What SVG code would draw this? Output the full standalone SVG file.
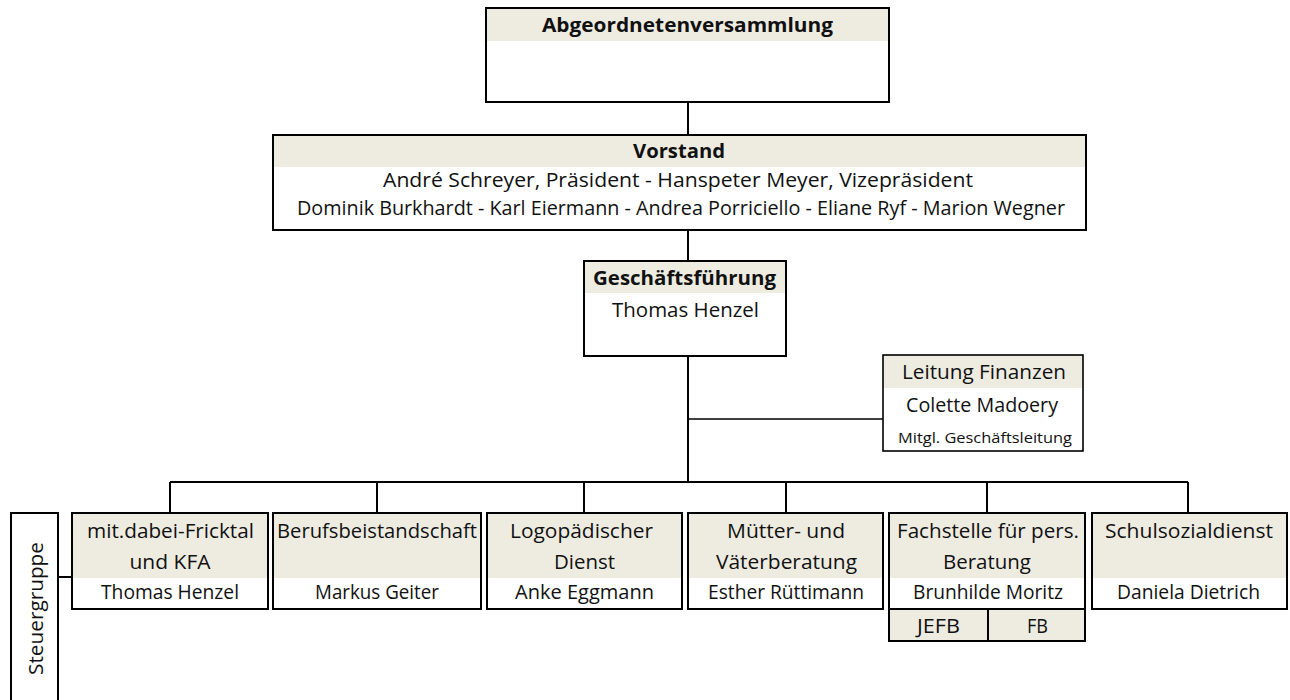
<svg xmlns="http://www.w3.org/2000/svg" width="1290" height="700" viewBox="0 0 1290 700">
<style>
.bg{fill:#ffffff}
.hd{fill:#EEECE1}
.bx{fill:none;stroke:#000;stroke-width:2}
.ln{fill:none;stroke:#000;stroke-width:2}
.thin{fill:none;stroke:#000;stroke-width:1.3}
text{font-family:"Open Sans","Noto Sans","Liberation Sans",sans-serif;fill:#111;text-anchor:middle}
.b{font-weight:bold;font-size:20px}
.t{font-size:20px}
.s{font-size:19.5px}
.xs{font-size:14.5px}
</style>
<rect x="0" y="0" width="1290" height="700" fill="#fff"/>
<g id="connectors">
<path class="ln" d="M688 102V135"/>
<path class="ln" d="M688 230V261"/>
<path class="ln" d="M688 356V482"/>
<path class="thin" d="M688 419H883"/>
<path class="ln" d="M170 482H1188"/>
<path class="ln" d="M170 482V513M377 482V513M584 482V513M786 482V513M987 482V513M1188 482V513"/>
<path class="ln" d="M58 577H72"/>
</g>
<g id="abgeordnetenversammlung">
<rect class="bg" x="486" y="8" width="403" height="94"/>
<rect class="hd" x="486" y="8" width="403" height="33"/>
<rect class="bx" x="486" y="8" width="403" height="94"/>
<text class="b" x="687.5" y="32" textLength="291" lengthAdjust="spacingAndGlyphs">Abgeordnetenversammlung</text>
</g>
<g id="vorstand">
<rect class="bg" x="273" y="135" width="813" height="95"/>
<rect class="hd" x="273" y="135" width="813" height="32"/>
<rect class="bx" x="273" y="135" width="813" height="95"/>
<text class="b" x="679" y="158" textLength="92" lengthAdjust="spacingAndGlyphs">Vorstand</text>
<text class="t" x="678" y="187" textLength="590" lengthAdjust="spacingAndGlyphs">André Schreyer, Präsident - Hanspeter Meyer, Vizepräsident</text>
<text class="s" x="681" y="215" textLength="768" lengthAdjust="spacingAndGlyphs">Dominik Burkhardt - Karl Eiermann - Andrea Porriciello - Eliane Ryf - Marion Wegner</text>
</g>
<g id="geschaeftsfuehrung">
<rect class="bg" x="584" y="261" width="202" height="95"/>
<rect class="hd" x="584" y="261" width="202" height="32"/>
<rect class="bx" x="584" y="261" width="202" height="95"/>
<text class="b" x="684.5" y="285" textLength="183" lengthAdjust="spacingAndGlyphs">Geschäftsführung</text>
<text class="t" x="685.5" y="317" textLength="147" lengthAdjust="spacingAndGlyphs">Thomas Henzel</text>
</g>
<g id="leitung-finanzen">
<rect class="bg" x="883" y="355" width="200" height="96"/>
<rect class="hd" x="883" y="355" width="200" height="33"/>
<rect class="bx" x="883" y="355" width="200" height="96" style="stroke-width:1.6"/>
<text class="t" x="984" y="379" textLength="164" lengthAdjust="spacingAndGlyphs">Leitung Finanzen</text>
<text class="t" x="982" y="412" textLength="152" lengthAdjust="spacingAndGlyphs">Colette Madoery</text>
<text class="xs" x="985" y="443" textLength="174" lengthAdjust="spacingAndGlyphs">Mitgl. Geschäftsleitung</text>
</g>
<g id="steuergruppe">
<rect class="bx" x="11" y="513" width="47" height="200" fill="#fff"/>
<text class="t" transform="translate(43 608.5) rotate(-90)" textLength="133" lengthAdjust="spacingAndGlyphs">Steuergruppe</text>
</g>
<g id="mitdabei">
<rect class="hd" x="72" y="513" width="196" height="65"/>
<rect class="bg" x="72" y="578" width="196" height="31"/>
<rect class="bx" x="72" y="513" width="196" height="96"/>
<text class="t" x="170.5" y="538" textLength="167" lengthAdjust="spacingAndGlyphs">mit.dabei-Fricktal</text>
<text class="t" x="170" y="569" textLength="81" lengthAdjust="spacingAndGlyphs">und KFA</text>
<text class="t" x="170" y="599" textLength="138" lengthAdjust="spacingAndGlyphs">Thomas Henzel</text>
</g>
<g id="berufsbeistandschaft">
<rect class="hd" x="273" y="513" width="208" height="65"/>
<rect class="bg" x="273" y="578" width="208" height="31"/>
<rect class="bx" x="273" y="513" width="208" height="96"/>
<text class="t" x="377" y="538" textLength="200" lengthAdjust="spacingAndGlyphs">Berufsbeistandschaft</text>
<text class="t" x="377" y="599" textLength="124" lengthAdjust="spacingAndGlyphs">Markus Geiter</text>
</g>
<g id="logopaedie">
<rect class="hd" x="487" y="513" width="195" height="65"/>
<rect class="bg" x="487" y="578" width="195" height="31"/>
<rect class="bx" x="487" y="513" width="195" height="96"/>
<text class="t" x="581.5" y="538" textLength="143" lengthAdjust="spacingAndGlyphs">Logopädischer</text>
<text class="t" x="584.5" y="569" textLength="61" lengthAdjust="spacingAndGlyphs">Dienst</text>
<text class="t" x="584.5" y="599" textLength="139" lengthAdjust="spacingAndGlyphs">Anke Eggmann</text>
</g>
<g id="muetterberatung">
<rect class="hd" x="688" y="513" width="195" height="65"/>
<rect class="bg" x="688" y="578" width="195" height="31"/>
<rect class="bx" x="688" y="513" width="195" height="96"/>
<text class="t" x="786" y="538" textLength="118" lengthAdjust="spacingAndGlyphs">Mütter- und</text>
<text class="t" x="786.5" y="569" textLength="141" lengthAdjust="spacingAndGlyphs">Väterberatung</text>
<text class="t" x="786" y="599" textLength="156" lengthAdjust="spacingAndGlyphs">Esther Rüttimann</text>
</g>
<g id="fachstelle">
<rect class="hd" x="889" y="513" width="196" height="65"/>
<rect class="bg" x="889" y="578" width="196" height="31"/>
<rect class="bx" x="889" y="513" width="196" height="96"/>
<text class="t" x="988" y="538" textLength="182" lengthAdjust="spacingAndGlyphs">Fachstelle für pers.</text>
<text class="t" x="987" y="569" textLength="88" lengthAdjust="spacingAndGlyphs">Beratung</text>
<text class="t" x="988" y="599" textLength="150" lengthAdjust="spacingAndGlyphs">Brunhilde Moritz</text>
</g>
<g id="jefb">
<rect class="hd" x="889" y="609" width="99" height="32"/>
<rect class="bx" x="889" y="609" width="99" height="32"/>
<text class="t" x="938.5" y="633" textLength="43" lengthAdjust="spacingAndGlyphs">JEFB</text>
</g>
<g id="fb">
<rect class="hd" x="988" y="609" width="97" height="32"/>
<rect class="bx" x="988" y="609" width="97" height="32"/>
<text class="t" x="1037.5" y="633" textLength="21" lengthAdjust="spacingAndGlyphs">FB</text>
</g>
<g id="schulsozialdienst">
<rect class="hd" x="1092" y="513" width="195" height="65"/>
<rect class="bg" x="1092" y="578" width="195" height="31"/>
<rect class="bx" x="1092" y="513" width="195" height="96"/>
<text class="t" x="1189" y="538" textLength="168" lengthAdjust="spacingAndGlyphs">Schulsozialdienst</text>
<text class="t" x="1188.5" y="599" textLength="143" lengthAdjust="spacingAndGlyphs">Daniela Dietrich</text>
</g>
</svg>
